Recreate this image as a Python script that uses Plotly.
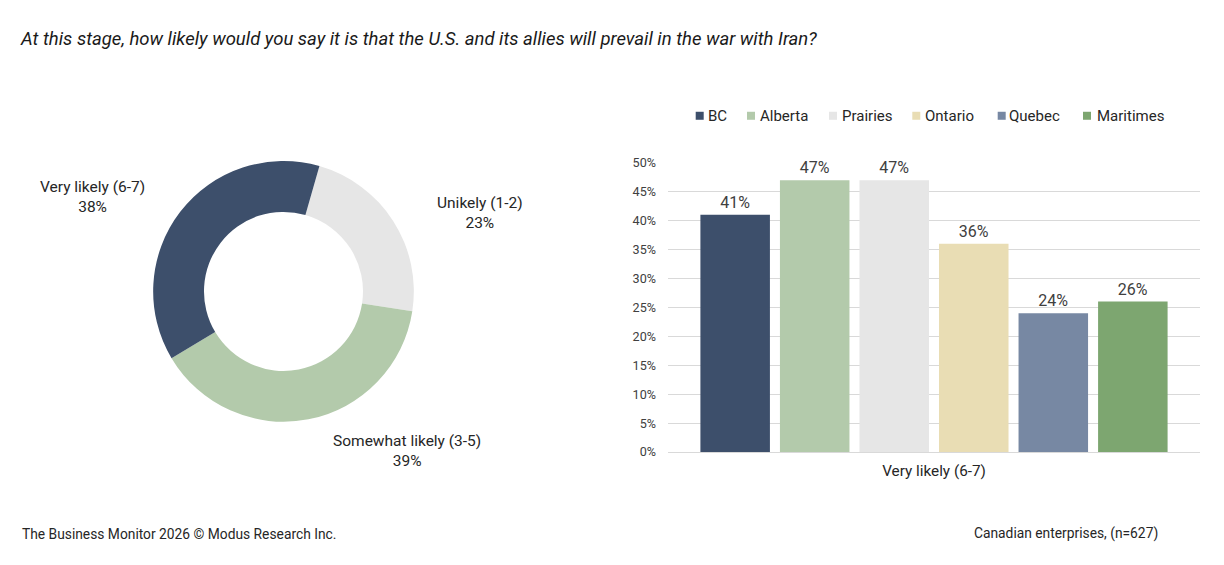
import plotly.graph_objects as go

# ---- data ----
donut_labels = ["Unikely (1-2)", "Somewhat likely (3-5)", "Very likely (6-7)"]
donut_values = [23, 39, 38]
donut_colors = ["#E6E6E6", "#B3CAAB", "#3D4F6B"]

regions = ["BC", "Alberta", "Prairies", "Ontario", "Quebec", "Maritimes"]
region_values = [0.41, 0.47, 0.47, 0.36, 0.24, 0.26]
region_colors = ["#3D4F6B", "#B3CAAB", "#E6E6E6", "#E9DDB4", "#7788A3", "#7DA670"]
bar_category = "Very likely (6-7)"
y_ticks = [0, 0.05, 0.10, 0.15, 0.20, 0.25, 0.30, 0.35, 0.40, 0.45, 0.50]

title = "At this stage, how likely would you say it is that the U.S. and its allies will prevail in the war with Iran?"
footer_left = "The Business Monitor 2026 © Modus Research Inc."
footer_right = "Canadian enterprises, (n=627)"

# ---- layout helpers (screen pixels -> paper coords) ----
OFF = 8
W, H = 1224 - 2 * OFF, 565 - 2 * OFF
Y_SCALE, Y_SHIFT = 0.972, 15.3
FONT = "Roboto"
TXT = "#262626"

def px(x):
    return (x - OFF) / W

def py(y):
    return 1 - ((y - Y_SHIFT) / Y_SCALE) / H

fig = go.Figure()

CX, CY, R = 283.5, 290.5, 134
fig.add_trace(go.Pie(
    labels=donut_labels, values=donut_values, hole=0.61, sort=False,
    direction="clockwise", rotation=16,
    marker=dict(colors=donut_colors, line=dict(width=0)),
    textinfo="none", hoverinfo="label+percent", showlegend=False,
    domain=dict(x=[px(CX - R), px(CX + R)], y=[py(CY + R * Y_SCALE), py(CY - R * Y_SCALE)]),
))

for name, val, col in zip(regions, region_values, region_colors):
    fig.add_trace(go.Bar(
        x=[bar_category], y=[val], name=name, marker=dict(color=col, line=dict(width=0)),
        text=[val], texttemplate="%{y:.0%}", textposition="outside",
        textfont=dict(size=16, color="#404040", family=FONT), cliponaxis=False,
        showlegend=False,
    ))

annotations = []
shapes = []

# donut labels
label_pos = {"Very likely (6-7)": (92, 196), "Unikely (1-2)": (480, 212), "Somewhat likely (3-5)": (407, 450)}
for lab, val in zip(donut_labels, donut_values):
    x, y = label_pos[lab]
    annotations.append(dict(x=px(x), y=py(y), xref="paper", yref="paper", xanchor="center", yanchor="middle",
                            text=f"{lab}<br>{val}%", showarrow=False,
                            font=dict(size=15.5, color=TXT, family=FONT), align="center"))

# legend (square + text)
sq_left = [695.7, 747, 829, 912.3, 997.7, 1083]
txt_left = [708, 760, 842, 925, 1009, 1096.7]
LEG_Y = 115
for name, col, sx, tx in zip(regions, region_colors, sq_left, txt_left):
    shapes.append(dict(type="rect", xref="paper", yref="paper", x0=px(sx), x1=px(sx + 8),
                       y0=py(LEG_Y + 4), y1=py(LEG_Y - 4), fillcolor=col, line=dict(width=0)))
    annotations.append(dict(x=px(tx - 2), y=py(LEG_Y), xref="paper", yref="paper", xanchor="left",
                            yanchor="middle", text=name, showarrow=False,
                            font=dict(size=15, color=TXT, family=FONT)))

annotations += [
    dict(x=px(18), y=py(38.5), xref="paper", yref="paper", xanchor="left", yanchor="middle",
         text=f"<i>{title}</i>", showarrow=False, font=dict(size=18.5, color="#1a1a1a", family=FONT)),
    dict(x=px(20), y=py(532.5), xref="paper", yref="paper", xanchor="left", yanchor="middle",
         text=footer_left, showarrow=False, font=dict(size=13.8, color=TXT, family=FONT)),
    dict(x=px(1160), y=py(532.5), xref="paper", yref="paper", xanchor="right", yanchor="middle",
         text=footer_right, showarrow=False, font=dict(size=13.8, color=TXT, family=FONT)),
]

fig.update_layout(
    width=W, height=H, margin=dict(l=0, r=0, t=0, b=0),
    paper_bgcolor="white", plot_bgcolor="white",
    font=dict(family=FONT, color=TXT),
    barmode="group", bargap=0.103, bargroupgap=0.126,
    xaxis=dict(domain=[px(668), px(1200)], showgrid=False, showline=True, linecolor="#D9D9D9",
               linewidth=1, ticks="", ticklabelstandoff=5,
               tickfont=dict(size=15.3, color=TXT, family=FONT)),
    yaxis=dict(domain=[py(451), py(162)], range=[0, 0.5], tickvals=y_ticks, tickformat=".0%",
               showgrid=True, gridcolor="#D9D9D9", gridwidth=1, zeroline=False, showline=False,
               ticks="", ticklabelstandoff=11, tickfont=dict(size=12.6, color="#404040", family=FONT)),
    showlegend=False,
    annotations=annotations,
    shapes=shapes,
)

fig.write_html("out.html")
